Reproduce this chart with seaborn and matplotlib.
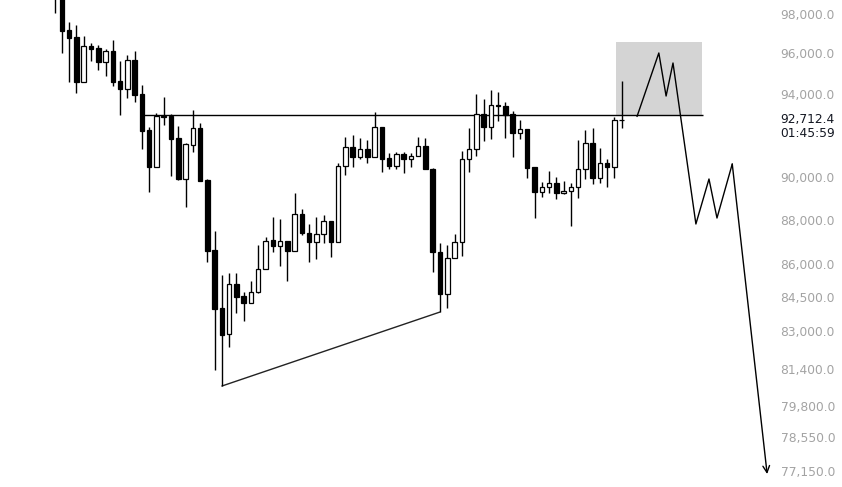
import matplotlib
matplotlib.use("Agg")
import matplotlib.pyplot as plt
import seaborn as sns
import numpy as np
import pandas as pd
from matplotlib.ticker import FixedLocator, FixedFormatter, NullLocator

# candle data (one bar per step)
opens = [100000, 99200, 97183, 96827, 94572, 96372, 96271, 95568, 96120, 94622,
         94226, 95668, 93980, 92225, 90456, 92904, 92904, 91840, 89890, 91504,
         92322, 89843, 86610, 84019, 82883, 85081, 84549, 84239, 84726, 85752,
         87064, 86791, 87019, 86564, 88257, 87384, 86973, 87338, 87934, 86973,
         90503, 91409, 90931, 91313, 90931, 92370, 90884, 90503, 91074, 90836,
         90979, 91456, 90362, 86519, 84637, 86248, 86973, 90836, 91313, 93001,
         92370, 93440, 93391, 93001, 92080, 92273, 90456, 89280, 89514, 89701,
         89233, 89327, 89514, 90362, 91600, 89937, 90646, 90456, 92700]
highs = [100300, 99500, 97590, 97437, 96878, 96524, 96423, 96221, 96675, 95618,
         95919, 96120, 94424, 92370, 93050, 93833, 93001, 92418, 91600, 93196,
         92564, 89890, 87475, 85483, 85573, 85573, 84726, 85215, 86837, 87201,
         88119, 88027, 87030, 89233, 88489, 87796, 88119, 88211, 87940, 90646,
         91888, 91984, 91840, 91744, 93098, 92380, 91122, 91170, 91170, 91122,
         91888, 91840, 90409, 86928, 86837, 87338, 91217, 92322, 93980, 93735,
         94177, 94078, 93587, 93147, 92710, 92280, 90465, 89748, 90267, 89984,
         89795, 89701, 91744, 92225, 92322, 91361, 90836, 92855, 94622]
lows = [98050, 96020, 94572, 94029, 94560, 95618, 95169, 94870, 94374, 92952,
        93784, 93587, 91313, 89280, 90440, 92467, 90031, 89843, 88581, 91170,
        89780, 86068, 81335, 80657, 82321, 83799, 83449, 84230, 84681, 85740,
        86519, 85887, 85215, 86550, 87292, 86068, 86203, 86928, 86293, 86960,
        90078, 90456, 90836, 90646, 90920, 90220, 90362, 90362, 90173, 90456,
        90970, 90350, 85618, 83843, 84019, 86240, 86338, 90220, 90979, 91696,
        91792, 92661, 91840, 90931, 91792, 89937, 88073, 89046, 89233, 88953,
        89186, 87704, 89000, 89890, 89654, 89701, 89514, 89937, 92322]
closes = [99000, 97132, 96777, 94572, 96372, 96221, 95568, 96120, 94572, 94226,
          95668, 93931, 92177, 90456, 92904, 92855, 91792, 89890, 91552, 92322,
          89795, 86564, 83975, 82840, 85081, 84504, 84239, 84726, 85752, 87019,
          86791, 87019, 86564, 88257, 87384, 86973, 87338, 87934, 86973, 90503,
          91409, 90931, 91313, 90931, 92370, 90836, 90503, 91074, 90836, 90979,
          91456, 90362, 86519, 84637, 86248, 86973, 90836, 91313, 93001, 92370,
          93440, 93391, 92952, 92080, 92273, 90409, 89280, 89514, 89701, 89233,
          89327, 89514, 90362, 91600, 89937, 90646, 90456, 92710, 92712.4]

last_price = 92712.4
countdown = "01:45:59"

# drawings
resist_level = 92940
resist_span = [12.3, 89.2]
box_x = [77.2, 89.0]
box_top = 96574
trend_bars = [23, 53]
zig_x = [80.1, 83.1, 84.1, 85.05, 88.2, 90.0, 91.1, 93.2]
zig_y = [92880, 96020, 93881, 95518, 87797, 89890, 88072, 90599]
arrow_end = (98.0, 77025)

tick_values = [98000, 96000, 94000, 90000, 88000, 86000, 84500, 83000,
               81400, 79800, 78550, 77150]

df = pd.DataFrame({"open": opens, "high": highs, "low": lows, "close": closes})
df["idx"] = np.arange(len(df))
df["bull"] = df["close"] >= df["open"]

sns.set_theme(style="white")
plt.rcParams["font.family"] = ["DejaVu Sans"]

fig = plt.figure(figsize=(8.42, 4.87), dpi=100)
ax = fig.add_axes([0, 0, 775 / 842, 1])
ax.set_yscale("log")

# gray target box
ax.fill_between(box_x, resist_level, box_top, color="#d4d4d4", lw=0, zorder=0.5)

# wicks then bodies
ax.vlines(df["idx"], df["low"], df["high"], color="black", lw=1.0, zorder=2)
body_lo = df[["open", "close"]].min(axis=1)
body_h = (df["close"] - df["open"]).abs()
ax.bar(df["idx"], body_h, bottom=body_lo, width=0.62,
       color=np.where(df["bull"], "white", "black"),
       edgecolor="black", linewidth=0.9, zorder=3)

# horizontal level
ax.hlines(resist_level, resist_span[0], resist_span[1], color="black", lw=1.0, zorder=1)

# lower trend line between the two lows
sns.lineplot(x=trend_bars, y=[df["low"][trend_bars[0]], df["low"][trend_bars[1]]],
             ax=ax, color="#222222", lw=1.0, sort=False, zorder=1)

# projected zigzag path
sns.lineplot(x=zig_x, y=zig_y, ax=ax, color="black", lw=1.0, sort=False, zorder=4)
ax.annotate("", xy=arrow_end, xytext=(zig_x[-1], zig_y[-1]),
            arrowprops=dict(arrowstyle="->", color="black", lw=1.0,
                            mutation_scale=12, shrinkA=0, shrinkB=0))

ax.set_xlim(-7.52, 99.08)
ax.set_ylim(76504, 98721)

ax.yaxis.tick_right()
ax.yaxis.set_major_locator(FixedLocator(tick_values))
ax.yaxis.set_major_formatter(FixedFormatter([f"{v:,.1f}" for v in tick_values]))
ax.yaxis.set_minor_locator(NullLocator())
ax.tick_params(axis="y", length=0, pad=4, labelcolor="#a3a3a3", labelsize=8.8)
ax.set_xticks([])
for s in ax.spines.values():
    s.set_visible(False)

ax.annotate(f"{last_price:,.1f}", xy=(1, last_price),
            xycoords=("axes fraction", "data"), xytext=(3.6, 0),
            textcoords="offset points", va="center", ha="left",
            fontsize=8.8, color="#131722", annotation_clip=False)
ax.annotate(countdown, xy=(1, last_price),
            xycoords=("axes fraction", "data"), xytext=(3.6, -9.4),
            textcoords="offset points", va="center", ha="left",
            fontsize=8.8, color="#131722", annotation_clip=False)

fig.savefig("out.png", dpi=100, facecolor="white")
